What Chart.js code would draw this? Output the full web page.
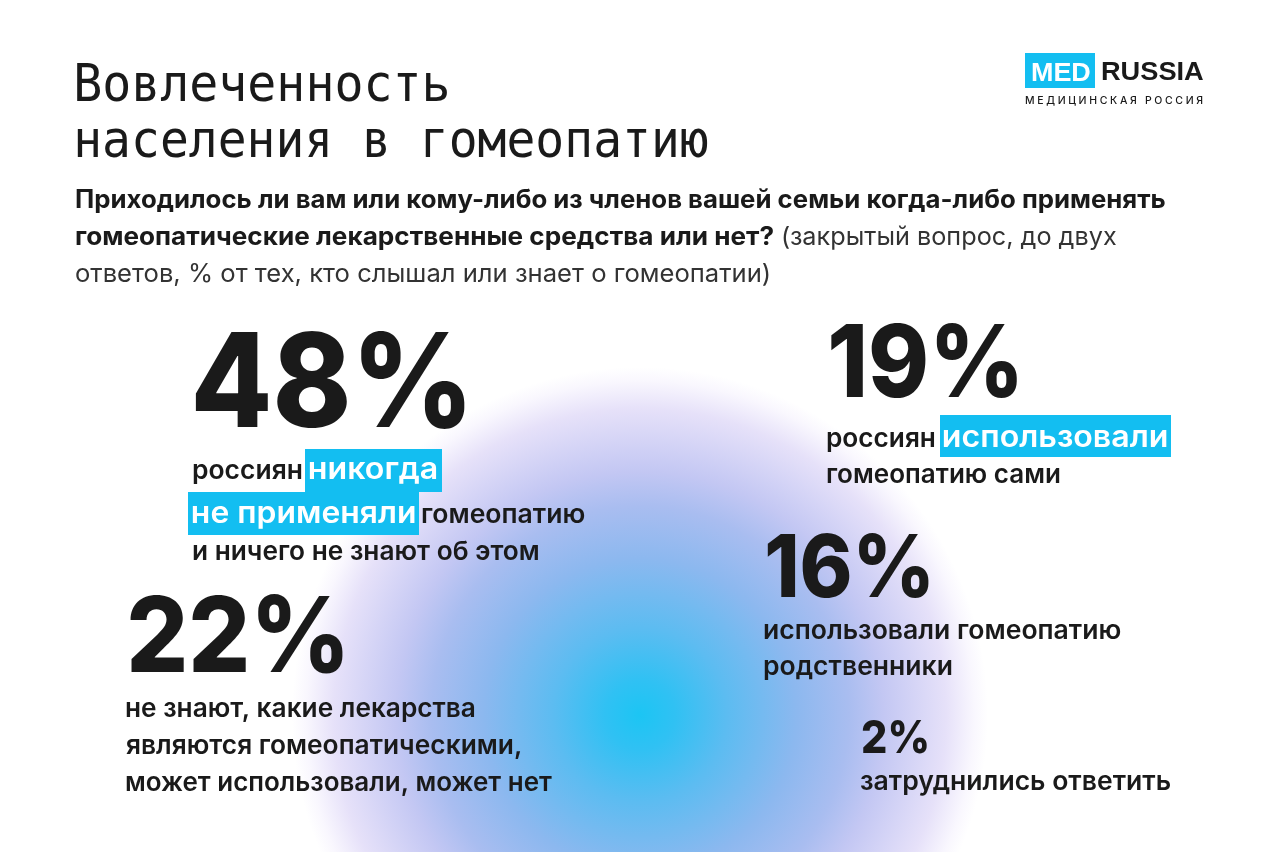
<!DOCTYPE html>
<html lang="ru">
<head>
<meta charset="utf-8">
<title>Вовлеченность населения в гомеопатию</title>
<script src="https://cdn.jsdelivr.net/npm/chart.js@4"></script>
<style>
  html, body { margin: 0; padding: 0; background: #fff; }
  #wrap { width: 1280px; height: 852px; }
</style>
</head>
<body>
<div id="wrap"><canvas id="chart" width="1280" height="852"></canvas></div>
<script>
// Values
const shares = [48, 19, 22, 16, 2];

const titleLines = ["Вовлеченность", "населения в гомеопатию"];
const questionBold = [
  "Приходилось ли вам или кому-либо из членов вашей семьи когда-либо применять",
  "гомеопатические лекарственные средства или нет?",
];
const questionNote = ["(закрытый вопрос, до двух", "ответов, % от тех, кто слышал или знает о гомеопатии)"];

// Captions, same order as shares. Runs starting with * get the blue box.
const captions = [
  [["россиян", "*никогда"], ["*не применяли", "гомеопатию"], ["и ничего не знают об этом"]],
  [["россиян", "*использовали"], ["гомеопатию сами"]],
  [["не знают, какие лекарства"], ["являются гомеопатическими,"], ["может использовали, может нет"]],
  [["использовали гомеопатию"], ["родственники"]],
  [["затруднились ответить"]],
];

// Layout: where each number sits (left ink edge, baseline), its size and ink width
const numberX = [195, 831, 130, 767, 862];
const numberY = [427, 397, 672, 597, 753];
const numberSize = [130, 100, 105, 87, 45];
const numberWidth = [270, 186, 213, 162, 65];

// Layout: caption baselines per row, [left, right] ink edge per run
const captionY = [
  [479, 523, 560],
  [447, 483],
  [717, 754, 791],
  [639, 675],
  [790],
];
const captionEdges = [
  [[[193, 302], [310, 437]], [[193, 415], [422, 585]], [[193, 538]]],
  [[[827, 935], [944, 1167]], [[827, 1060]]],
  [[[126, 475]], [[126, 521]], [[126, 552]]],
  [[[764, 1121]], [[764, 952]]],
  [[[861, 1170]]],
];
const boxEdges = { "никогда": [305, 442, 449, 492], "не применяли": [188, 419, 492, 535], "использовали": [940, 1171, 415, 457] };

const INK = "#1a1a1a";
const CYAN = "#13bef1";
const BODY = '"Inter", sans-serif';

// Draws text so that its ink runs from x to x + width
function drawFit(ctx, text, x, y, font, color, width) {
  ctx.font = font;
  ctx.fillStyle = color;
  const m = ctx.measureText(text);
  const ink = m.actualBoundingBoxLeft + m.actualBoundingBoxRight;
  const sx = width / ink;
  ctx.save();
  ctx.translate(x + m.actualBoundingBoxLeft * sx, y);
  ctx.scale(sx, 1);
  ctx.fillText(text, 0, 0);
  ctx.restore();
}

const backgroundGlow = {
  id: "backgroundGlow",
  beforeDraw(chart) {
    const ctx = chart.ctx;
    const g = ctx.createRadialGradient(640, 715, 0, 640, 715, 348);
    g.addColorStop(0, "#1cc5f3");
    g.addColorStop(0.1, "#30c1f3");
    g.addColorStop(0.25, "#5cbcf1");
    g.addColorStop(0.45, "#8cb8ef");
    g.addColorStop(0.6, "#a9bdf0");
    g.addColorStop(0.7, "#c3c7f3");
    g.addColorStop(0.88, "#e6e1f9");
    g.addColorStop(0.96, "#f9f7fe");
    g.addColorStop(1, "#ffffff");
    ctx.save();
    ctx.fillStyle = "#fff";
    ctx.fillRect(0, 0, 1280, 852);
    ctx.fillStyle = g;
    ctx.beginPath();
    ctx.arc(640, 715, 348, 0, Math.PI * 2);
    ctx.fill();
    ctx.restore();
  },
};

const pageText = {
  id: "pageText",
  afterDatasetsDraw(chart) {
    const ctx = chart.ctx;
    ctx.save();
    ctx.textBaseline = "alphabetic";
    ctx.textAlign = "left";

    // heading
    const headFont = '51px "DejaVu Sans Mono", monospace';
    drawFit(ctx, titleLines[0], 77, 101, headFont, INK, 370);
    drawFit(ctx, titleLines[1], 77, 157, headFont, INK, 631);

    // question
    const boldFont = "700 25px " + BODY;
    const noteFont = "400 25px " + BODY;
    drawFit(ctx, questionBold[0], 76, 208, boldFont, INK, 1089);
    drawFit(ctx, questionBold[1], 76, 245, boldFont, INK, 697);
    drawFit(ctx, questionNote[0], 783, 245, noteFont, "#333", 333);
    drawFit(ctx, questionNote[1], 76, 282, noteFont, "#333", 693);

    // logo
    ctx.fillStyle = CYAN;
    ctx.fillRect(1025, 53, 70, 35);
    drawFit(ctx, "MED", 1032, 81, '700 26px "Liberation Sans"', "#fff", 58);
    drawFit(ctx, "RUSSIA", 1102, 80, '700 26px "Liberation Sans"', INK, 102);
    ctx.letterSpacing = "2.65px";
    ctx.font = "500 10.5px " + BODY;
    ctx.fillStyle = INK;
    ctx.fillText("МЕДИЦИНСКАЯ РОССИЯ", 1025, 104);
    ctx.letterSpacing = "0px";

    // numbers and captions
    const points = chart.getDatasetMeta(0).data;
    shares.forEach((value, i) => {
      const p = points[i];
      drawFit(ctx, value + "%", p.x, p.y, "800 " + numberSize[i] + "px " + BODY, INK, numberWidth[i]);

      captions[i].forEach((runs, row) => {
        const y = captionY[i][row];
        runs.forEach((run, r) => {
          const marked = run.startsWith("*");
          const text = marked ? run.slice(1) : run;
          const [left, right] = captionEdges[i][row][r];
          if (marked) {
            const b = boxEdges[text];
            ctx.fillStyle = CYAN;
            ctx.fillRect(b[0], b[2], b[1] - b[0], b[3] - b[2]);
          }
          const font = marked ? "600 30px " + BODY : "600 26px " + BODY;
          drawFit(ctx, text, left, y, font, marked ? "#fff" : INK, right - left);
        });
      });
    });
    ctx.restore();
  },
};

new Chart(document.getElementById("chart"), {
  type: "scatter",
  data: {
    datasets: [
      {
        label: "Доля, %",
        data: shares.map((v, i) => ({ x: numberX[i], y: numberY[i], share: v })),
        pointRadius: 0,
      },
    ],
  },
  options: {
    responsive: false,
    animation: false,
    layout: { padding: 0 },
    plugins: { legend: { display: false }, tooltip: { enabled: false } },
    scales: {
      x: { type: "linear", min: 0, max: 1280, display: false },
      y: { type: "linear", min: 0, max: 852, reverse: true, display: false },
    },
  },
  plugins: [backgroundGlow, pageText],
});
</script>
</body>
</html>
